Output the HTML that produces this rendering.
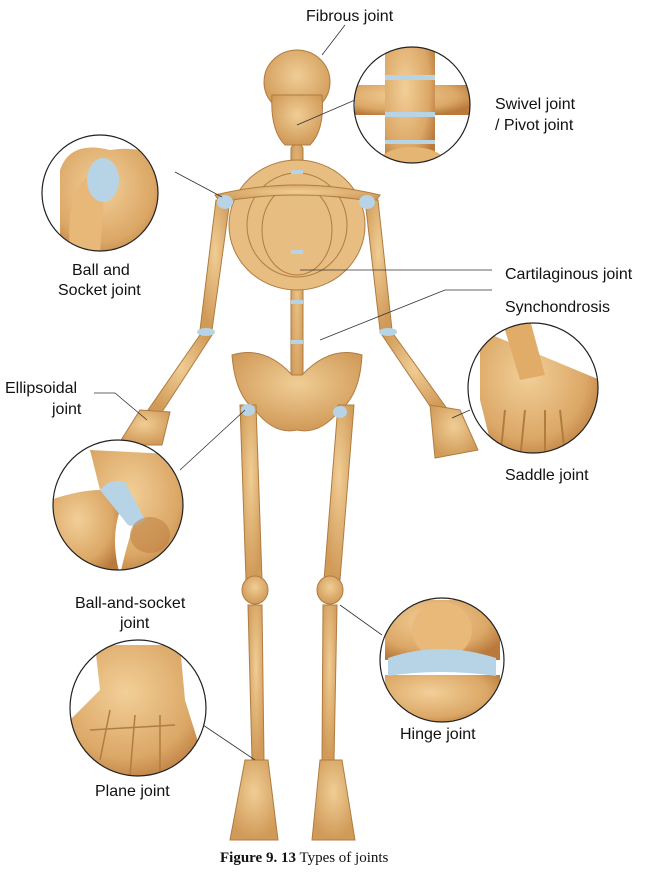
<!DOCTYPE html>
<html><head><meta charset="utf-8"><style>
html,body{margin:0;padding:0;background:#fff;width:660px;height:875px;overflow:hidden}
svg{display:block}
text{font-family:"Liberation Sans",sans-serif;font-size:16px;fill:#111}
</style></head><body>
<svg width="660" height="875" viewBox="0 0 660 875">
<defs>
<radialGradient id="b" cx="50%" cy="40%" r="60%"><stop offset="0" stop-color="#f0cd95"/><stop offset="1" stop-color="#d09a58"/></radialGradient>
<radialGradient id="c" cx="40%" cy="35%" r="70%"><stop offset="0" stop-color="#f2cf98"/><stop offset="0.7" stop-color="#dba766"/><stop offset="1" stop-color="#b97a3c"/></radialGradient>
<clipPath id="k1"><circle cx="412" cy="105" r="58"/></clipPath>
<clipPath id="k2"><circle cx="100" cy="193" r="58"/></clipPath>
<clipPath id="k3"><circle cx="533" cy="388" r="65"/></clipPath>
<clipPath id="k4"><circle cx="118" cy="505" r="65"/></clipPath>
<clipPath id="k5"><circle cx="138" cy="708" r="68"/></clipPath>
<clipPath id="k6"><circle cx="442" cy="660" r="62"/></clipPath>
</defs>
<g fill="url(#b)" stroke="#b07c40" stroke-width="1">
<ellipse cx="297" cy="82" rx="33" ry="32"/>
<path d="M272 95 Q270 130 285 145 L310 145 Q325 130 322 95 Z"/>
<rect x="291" y="145" width="12" height="265" rx="4"/>
<ellipse cx="297" cy="225" rx="68" ry="65" fill="#e7bd82"/>
<ellipse cx="297" cy="225" rx="50" ry="52" fill="none"/>
<ellipse cx="297" cy="230" rx="35" ry="45" fill="none"/>
<path d="M215 195 Q297 175 380 195 L375 202 Q297 188 220 202Z"/>
<path d="M232 355 Q265 345 292 375 L302 375 Q330 345 362 355 Q360 395 340 410 Q320 435 297 430 Q274 435 255 410 Q235 395 232 355Z"/>
<path d="M216 200 L230 200 L212 330 L200 330Z"/>
<path d="M200 335 L212 335 L160 415 L148 410Z"/>
<path d="M365 200 L378 200 L392 330 L380 330Z"/>
<path d="M382 335 L394 335 L448 410 L436 415Z"/>
<path d="M140 410 L170 412 L162 445 L118 445Z"/>
<path d="M430 405 L460 410 L478 450 L435 458Z"/>
<path d="M240 405 L256 405 L262 580 L246 580Z"/>
<path d="M338 405 L354 405 L340 580 L324 580Z"/>
<ellipse cx="255" cy="590" rx="13" ry="14"/><ellipse cx="330" cy="590" rx="13" ry="14"/>
<path d="M248 605 L262 605 L264 760 L252 760Z"/>
<path d="M323 605 L337 605 L334 760 L322 760Z"/>
<path d="M245 760 L268 760 L278 840 L230 840Z"/>
<path d="M320 760 L342 760 L355 840 L312 840Z"/>
</g>
<g fill="#b7d3e6">
<rect x="291" y="170" width="12" height="4"/><rect x="291" y="250" width="12" height="4"/><rect x="291" y="300" width="12" height="4"/><rect x="291" y="340" width="12" height="4"/>
<ellipse cx="225" cy="202" rx="8" ry="7"/><ellipse cx="367" cy="202" rx="8" ry="7"/>
<ellipse cx="206" cy="332" rx="9" ry="4"/><ellipse cx="388" cy="332" rx="9" ry="4"/>
<ellipse cx="248" cy="410" rx="7" ry="6"/><ellipse cx="340" cy="412" rx="7" ry="6"/>
</g>
<!-- insets -->
<g clip-path="url(#k1)"><rect x="350" y="40" width="130" height="130" fill="#fff"/>
<path d="M355 85 L470 85 L470 115 L355 115Z" fill="url(#c)"/>
<rect x="385" y="45" width="50" height="125" fill="url(#c)"/>
<ellipse cx="412" cy="165" rx="35" ry="18" fill="#e5b574"/>
<rect x="385" y="75" width="50" height="5" fill="#b7d3e6"/><rect x="385" y="112" width="50" height="5" fill="#b7d3e6"/><rect x="385" y="140" width="50" height="4" fill="#b7d3e6"/></g>
<g clip-path="url(#k2)"><rect x="40" y="130" width="125" height="125" fill="#fff"/>
<path d="M60 170 Q70 140 110 150 Q140 145 165 160 L165 260 L60 260Z" fill="url(#c)"/>
<path d="M70 250 Q65 190 90 175 L105 180 L100 255Z" fill="#e7b878"/>
<ellipse cx="103" cy="180" rx="16" ry="22" fill="#b7d3e6"/></g>
<g clip-path="url(#k3)"><rect x="465" y="320" width="135" height="135" fill="#fff"/>
<path d="M480 330 L600 380 L600 460 L495 460 L480 400Z" fill="url(#c)"/>
<path d="M505 330 L530 320 L545 375 L520 380Z" fill="#e0ac68"/>
<path d="M500 460 L505 410 M520 460 L525 410 M545 460 L545 410 M565 455 L560 410" stroke="#b07c40" stroke-width="2"/></g>
<g clip-path="url(#k4)"><rect x="50" y="438" width="140" height="135" fill="#fff"/>
<path d="M90 450 L190 455 L190 575 L120 575 Q130 530 140 510 L100 490Z" fill="url(#c)"/>
<path d="M50 500 Q80 490 100 490 L120 510 Q110 540 120 575 L50 575Z" fill="url(#c)"/>
<path d="M100 490 Q110 478 125 482 L145 520 Q135 528 128 525Z" fill="#b7d3e6"/>
<ellipse cx="150" cy="535" rx="20" ry="18" fill="#b97a3c" opacity="0.5"/></g>
<g clip-path="url(#k5)"><rect x="68" y="638" width="140" height="140" fill="#fff"/>
<path d="M95 645 L180 645 L185 700 L210 780 L70 780 L70 720 L100 690Z" fill="url(#c)"/>
<path d="M90 730 L175 725 M100 760 L110 710 M130 775 L135 715 M160 775 L160 715" stroke="#b07c40" stroke-width="1.5" fill="none"/></g>
<g clip-path="url(#k6)"><rect x="378" y="596" width="128" height="128" fill="#fff"/>
<path d="M385 600 L500 600 L500 660 L385 660Z" fill="url(#c)"/>
<ellipse cx="442" cy="630" rx="30" ry="28" fill="#e9b979"/>
<rect x="385" y="675" width="115" height="50" fill="url(#c)"/>
<path d="M388 658 Q440 640 496 658 L496 676 Q440 668 388 676Z" fill="#b7d3e6"/></g>
<g fill="none" stroke="#222" stroke-width="1.2">
<circle cx="412" cy="105" r="58"/><circle cx="100" cy="193" r="58"/><circle cx="533" cy="388" r="65"/>
<circle cx="118" cy="505" r="65"/><circle cx="138" cy="708" r="68"/><circle cx="442" cy="660" r="62"/>
</g>
<g stroke="#333" stroke-width="0.8" fill="none">
<path d="M345 25 L322 55"/><path d="M355 100 L297 125"/><path d="M175 172 L222 197"/>
<path d="M300 270 L492 270"/><path d="M445 290 L492 290 M445 290 L320 340"/>
<path d="M94 393 L115 393 L147 420"/><path d="M452 418 L470 410"/>
<path d="M180 470 L245 410"/><path d="M203 725 L255 760"/><path d="M340 605 L382 635"/>
</g>
<text x="306" y="21">Fibrous joint</text>
<text x="495" y="109">Swivel joint</text><text x="495" y="130">/ Pivot joint</text>
<text x="72" y="275">Ball and</text><text x="58" y="295">Socket joint</text>
<text x="505" y="279">Cartilaginous joint</text>
<text x="505" y="312">Synchondrosis</text>
<text x="5" y="393">Ellipsoidal</text><text x="52" y="414">joint</text>
<text x="505" y="480">Saddle joint</text>
<text x="75" y="608">Ball-and-socket</text><text x="120" y="628">joint</text>
<text x="400" y="739">Hinge joint</text>
<text x="95" y="796">Plane joint</text>
<text x="220" y="862" style="font-family:'Liberation Serif',serif;font-size:15px"><tspan font-weight="bold">Figure 9. 13</tspan>  Types of joints</text>
</svg>
</body></html>
